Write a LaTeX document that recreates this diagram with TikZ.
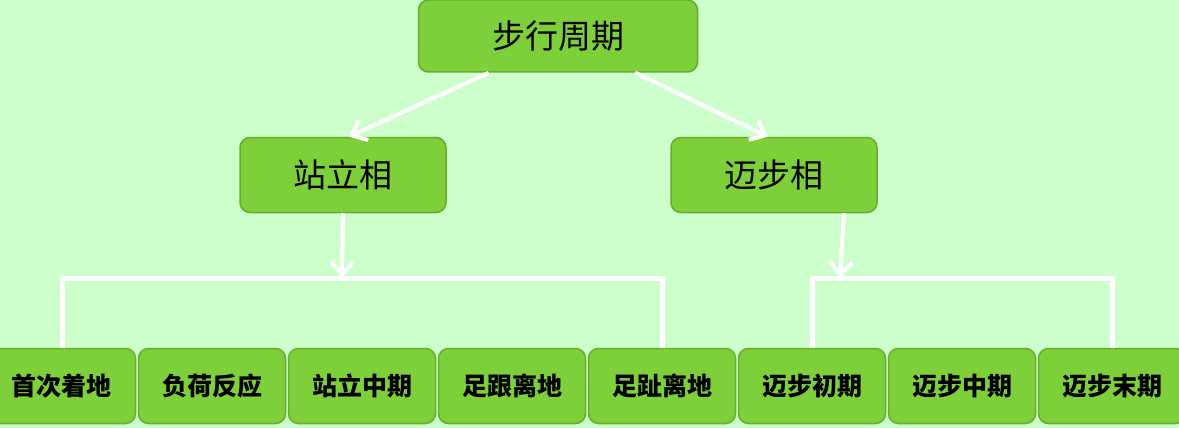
\documentclass[tikz,border=0pt]{standalone}
\usepackage{fontspec}
\newfontfamily\cjk{Noto Sans CJK SC}
\usetikzlibrary{arrows.meta}
\definecolor{bgc}{RGB}{204,255,204}
\definecolor{boxc}{RGB}{126,208,58}
\definecolor{edgec}{RGB}{104,172,42}
\tikzset{
  phase/.style={draw=edgec, line width=1.5pt, fill=boxc, rounded corners=10pt,
    inner sep=0pt, text=black, font=\cjk\fontsize{33}{33}\selectfont},
  subphase/.style={phase, minimum width=147pt, minimum height=75pt,
    font=\cjk\bfseries\fontsize{25}{25}\selectfont},
  link/.style={white, line width=4pt},
  arr/.style={link, -{Straight Barb[length=13pt,width=22pt,line width=4pt]}}
}
\begin{document}
\begin{tikzpicture}[x=1pt, y=-1pt]
      % 1. 背景
      \fill[bgc] (0,0) rectangle (1179,428);
      \useasboundingbox (0,0) rectangle (1179,428);
      \clip (0,0) rectangle (1179,428);

      % 2. 步行周期與兩個相
      \node[phase, minimum width=279pt, minimum height=72pt] (cycle) at (558,36) {步行周期};
      \node[phase, minimum width=206pt, minimum height=75pt] (stance) at (343,175) {站立相};
      \node[phase, minimum width=206pt, minimum height=75pt] (swing) at (774,175) {迈步相};

      % 3. 八個分期
      \node[subphase] (b1) at (62,386)   {首次着地};
      \node[subphase] (b2) at (212,386)  {负荷反应};
      \node[subphase] (b3) at (362,386)  {站立中期};
      \node[subphase] (b4) at (512,386)  {足跟离地};
      \node[subphase] (b5) at (662,386)  {足趾离地};
      \node[subphase] (b6) at (812,386)  {迈步初期};
      \node[subphase] (b7) at (962,386)  {迈步中期};
      \node[subphase] (b8) at (1112,386) {迈步末期};

      % 4. 分支橫線的中點
      \coordinate (lbar) at (342,278);
      \coordinate (rbar) at (840,278);

      % 5. 箭頭
      \draw[arr] ([xshift=71pt]cycle.south west) -- ([xshift=6pt]stance.north);
      \draw[arr] ([xshift=-63pt]cycle.south east) -- ([xshift=-6pt]swing.north);
      \draw[arr] (stance.south) -- (lbar);
      \draw[arr] ([xshift=70pt]swing.south) -- (rbar);

      % 6. 分支線
      \draw[link, line width=5pt] (b1.north) |- (lbar) -| (b5.north);
      \draw[link, line width=5pt] (b6.north) |- (rbar) -| (b8.north);
    \end{tikzpicture}
\end{document}
